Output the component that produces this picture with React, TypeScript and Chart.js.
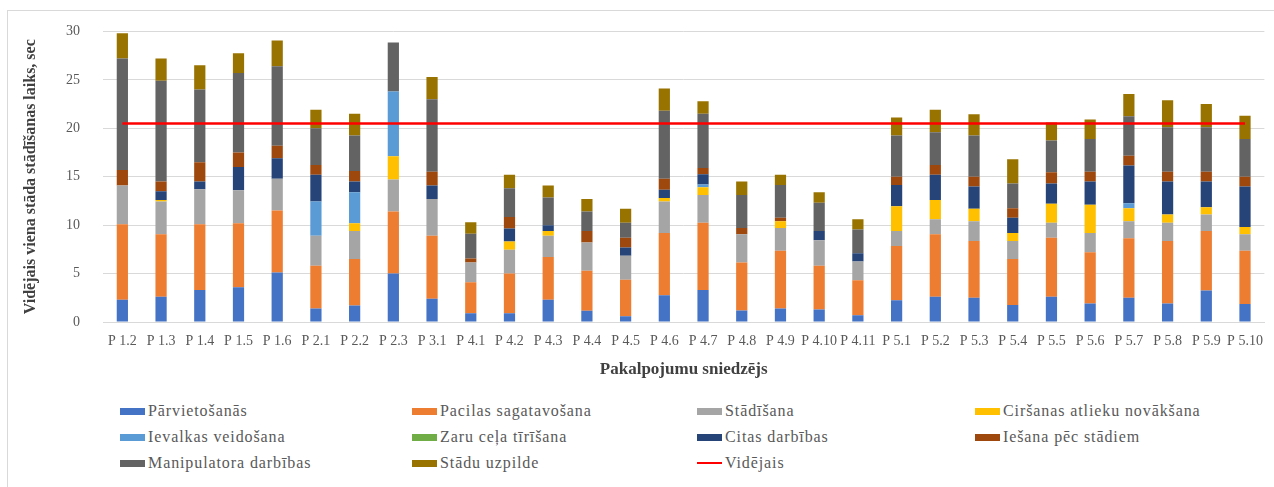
import React, { useEffect, useRef } from "react";
import { Chart, registerables } from "chart.js";

Chart.register(...registerables);

const categories = [
  "P 1.2", "P 1.3", "P 1.4", "P 1.5", "P 1.6", "P 2.1", "P 2.2", "P 2.3", "P 3.1",
  "P 4.1", "P 4.2", "P 4.3", "P 4.4", "P 4.5", "P 4.6", "P 4.7", "P 4.8", "P 4.9", "P 4.10", "P 4.11",
  "P 5.1", "P 5.2", "P 5.3", "P 5.4", "P 5.5", "P 5.6", "P 5.7", "P 5.8", "P 5.9", "P 5.10",
];

const parvietosanas = [2.3, 2.6, 3.3, 3.6, 5.1, 1.4, 1.7, 5.0, 2.4, 0.9, 0.9, 2.3, 1.15, 0.6, 2.75, 3.3, 1.2, 1.4, 1.3, 0.7, 2.25, 2.6, 2.5, 1.75, 2.6, 1.9, 2.5, 1.9, 3.25, 1.85];
const pacilasSagatavosana = [7.8, 6.45, 6.8, 6.6, 6.4, 4.4, 4.8, 6.4, 6.5, 3.2, 4.1, 4.4, 4.15, 3.75, 6.45, 6.95, 4.95, 5.95, 4.5, 3.6, 5.6, 6.45, 5.85, 4.75, 6.1, 5.3, 6.15, 6.45, 6.15, 5.5];
const stadisana = [4.0, 3.4, 3.6, 3.4, 3.3, 3.1, 2.9, 3.3, 3.8, 2.05, 2.45, 2.2, 2.9, 2.5, 3.25, 2.85, 2.9, 2.35, 2.65, 1.95, 1.55, 1.55, 2.05, 1.85, 1.55, 2.0, 1.75, 1.9, 1.7, 1.7];
const cirsanasAtlieku = [0, 0.15, 0, 0, 0, 0, 0.8, 2.4, 0, 0, 0.85, 0.5, 0, 0, 0.35, 0.8, 0, 0.7, 0, 0, 2.55, 2.0, 1.3, 0.85, 1.95, 2.9, 1.35, 0.85, 0.75, 0.75];
const ievalkasVeidosana = [0, 0, 0, 0, 0, 3.55, 3.2, 6.7, 0, 0, 0, 0, 0, 0, 0, 0.3, 0, 0, 0, 0, 0, 0, 0, 0, 0, 0, 0.5, 0, 0, 0];
const zaruCelaTirisana = [0, 0, 0, 0, 0, 0, 0, 0, 0, 0, 0, 0, 0, 0, 0, 0, 0, 0, 0, 0, 0, 0, 0, 0, 0, 0, 0, 0, 0, 0];
const citasDarbibas = [0, 0.9, 0.8, 2.4, 2.1, 2.75, 1.1, 0, 1.4, 0, 1.35, 0.6, 0, 0.85, 0.85, 1.05, 0, 0, 0.95, 0.85, 2.2, 2.6, 2.3, 1.55, 2.1, 2.4, 3.9, 3.4, 2.65, 4.2];
const iesanaPecStadiem = [1.6, 1.0, 2.0, 1.5, 1.3, 1.0, 1.1, 0, 1.4, 0.4, 1.2, 0, 1.2, 1.0, 1.15, 0.65, 0.65, 0.35, 0, 0, 0.85, 1.0, 1.0, 1.0, 1.15, 1.0, 1.0, 1.0, 1.0, 1.0];
const manipulatoraDarbibas = [11.5, 10.4, 7.5, 8.2, 8.2, 3.8, 3.65, 5.05, 7.5, 2.55, 2.95, 2.85, 2.0, 1.55, 7.0, 5.6, 3.4, 3.4, 2.9, 2.45, 4.25, 3.4, 4.25, 2.55, 3.3, 3.4, 4.1, 4.6, 4.6, 3.9];
const staduUzpilde = [2.6, 2.3, 2.5, 2.05, 2.65, 1.9, 2.25, 0, 2.3, 1.2, 1.4, 1.25, 1.3, 1.45, 2.3, 1.3, 1.4, 1.05, 1.1, 1.05, 1.85, 2.3, 2.2, 2.5, 1.85, 2.0, 2.3, 2.8, 2.4, 2.4];
const videjaisValue = 20.5;

const barSeries = [
  { label: "Pārvietošanās", data: parvietosanas, color: "#4472C4" },
  { label: "Pacilas sagatavošana", data: pacilasSagatavosana, color: "#ED7D31" },
  { label: "Stādīšana", data: stadisana, color: "#A5A5A5" },
  { label: "Ciršanas atlieku novākšana", data: cirsanasAtlieku, color: "#FFC000" },
  { label: "Ievalkas veidošana", data: ievalkasVeidosana, color: "#5B9BD5" },
  { label: "Zaru ceļa tīrīšana", data: zaruCelaTirisana, color: "#70AD47" },
  { label: "Citas darbības", data: citasDarbibas, color: "#264478" },
  { label: "Iešana pēc stādiem", data: iesanaPecStadiem, color: "#9E480E" },
  { label: "Manipulatora darbības", data: manipulatoraDarbibas, color: "#636363" },
  { label: "Stādu uzpilde", data: staduUzpilde, color: "#997300" },
];
const avgLabel = "Vidējais";
const avgColor = "#FF0000";

const FONT = "'Liberation Serif', 'Times New Roman', serif";

export default function App() {
  const ref = useRef<HTMLCanvasElement | null>(null);

  useEffect(() => {
    if (!ref.current) return;
    const datasets: any[] = barSeries.map((s) => ({
      type: "bar",
      label: s.label,
      data: s.data,
      backgroundColor: s.color,
      borderWidth: 0,
      stack: "main",
      order: 1,
      barPercentage: 0.29,
      categoryPercentage: 1,
    }));
    datasets.push({
      type: "line",
      label: avgLabel,
      data: categories.map(() => videjaisValue),
      borderColor: avgColor,
      borderWidth: 2.5,
      pointRadius: 0,
      fill: false,
      stack: "avg",
      order: 0,
    });
    const chart = new Chart(ref.current, {
      type: "bar",
      data: { labels: categories, datasets },
      options: {
        responsive: false,
        animation: false,
        layout: { padding: { top: 28, right: 6, left: 0, bottom: 0 } },
        plugins: { legend: { display: false }, tooltip: { enabled: false } },
        scales: {
          x: {
            stacked: true,
            grid: { display: false, drawTicks: false },
            border: { display: true, color: "#D9D9D9" },
            ticks: {
              autoSkip: false,
              maxRotation: 0,
              minRotation: 0,
              padding: 11,
              color: "#595959",
              font: { family: FONT, size: 14 },
            },
            title: {
              display: true,
              text: "Pakalpojumu sniedzējs",
              color: "#404040",
              font: { family: FONT, size: 17, weight: "bold" },
              padding: { top: 0, bottom: 10 },
            },
            afterFit: (scale: any) => {
              scale.height = 68;
            },
          },
          y: {
            stacked: true,
            min: 0,
            max: 30,
            ticks: {
              stepSize: 5,
              padding: 23,
              color: "#595959",
              font: { family: FONT, size: 14 },
            },
            grid: { color: "#D9D9D9", drawTicks: false },
            border: { display: false },
            title: {
              display: true,
              text: "Vidējais viena stāda stādīšanas laiks, sec",
              color: "#404040",
              font: { family: FONT, size: 16, weight: "bold" },
              padding: { top: 21, bottom: 0 },
            },
            afterFit: (scale: any) => {
              scale.width = 103;
            },
          },
        },
      },
    });
    return () => chart.destroy();
  }, []);

  const legendItems = [
    ...barSeries.map((s) => ({ label: s.label, color: s.color, line: false })),
    { label: avgLabel, color: avgColor, line: true },
  ];
  const colX = [120, 412, 697, 975];
  const rowY = [411, 437, 463];

  return (
    <div style={{ position: "absolute", left: 0, top: 0, width: 1274, height: 487, background: "#fff", overflow: "hidden" }}>
      <div style={{ position: "absolute", left: 7, top: 10, width: 1300, height: 500, borderLeft: "1px solid #D9D9D9", borderTop: "1px solid #D9D9D9" }} />
      <canvas ref={ref} width={1274} height={390} style={{ position: "absolute", left: 0, top: 0 }} />
      {legendItems.map((it, i) => {
        const c = i % 4;
        const r = Math.floor(i / 4);
        return (
          <div
            key={it.label}
            style={{
              position: "absolute",
              left: colX[c],
              top: rowY[r] - 10,
              height: 20,
              display: "flex",
              alignItems: "center",
              fontFamily: FONT,
              fontSize: 16,
              letterSpacing: "0.9px",
              color: "#595959",
              whiteSpace: "nowrap",
            }}
          >
            <span
              style={{
                display: "inline-block",
                width: 25,
                height: it.line ? 2 : 7,
                background: it.color,
                marginRight: 3,
              }}
            />
            {it.label}
          </div>
        );
      })}
    </div>
  );
}
